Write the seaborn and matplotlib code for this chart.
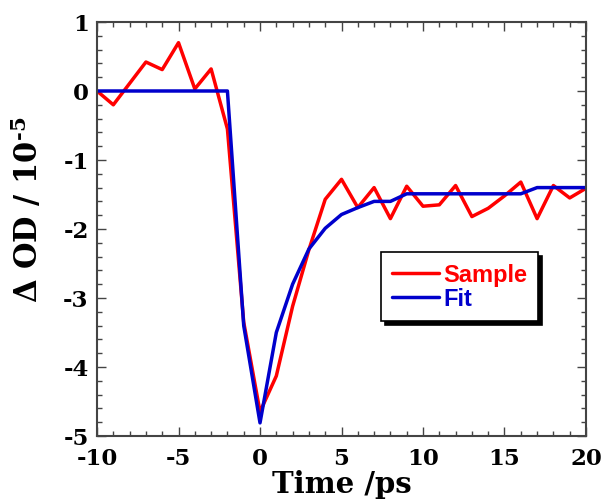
import numpy as np
import pandas as pd
import matplotlib
matplotlib.use('Agg')
import matplotlib.pyplot as plt
import seaborn as sns
from matplotlib.ticker import MultipleLocator

# Data
time_ps = [-10, -9, -8, -7, -6, -5, -4, -3, -2, -1, 0, 1, 2, 3, 4, 5,
           6, 7, 8, 9, 10, 11, 12, 13, 14, 15, 16, 17, 18, 19, 20]
sample = [0.00, -0.20, 0.11, 0.42, 0.31, 0.70, 0.03, 0.32, -0.55, -3.35,
          -4.65, -4.13, -3.12, -2.30, -1.57, -1.28, -1.69, -1.40, -1.85,
          -1.38, -1.67, -1.65, -1.37, -1.82, -1.70, -1.52, -1.32, -1.85,
          -1.37, -1.55, -1.41]
fit = [0.00, 0.00, 0.00, 0.00, 0.00, 0.00, 0.00, 0.00, 0.00, -3.40,
       -4.81, -3.50, -2.80, -2.29, -1.99, -1.79, -1.69, -1.60, -1.60,
       -1.49, -1.49, -1.49, -1.49, -1.49, -1.49, -1.49, -1.49, -1.40,
       -1.40, -1.40, -1.40]

df = pd.DataFrame({'time': time_ps, 'sample': sample, 'fit': fit})

sns.set_style('ticks')
plt.rcParams['font.family'] = ['DejaVu Serif']
plt.rcParams['font.weight'] = 'bold'
plt.rcParams['mathtext.fontset'] = 'dejavuserif'
plt.rcParams['mathtext.default'] = 'bf'
plt.rcParams['axes.unicode_minus'] = False
plt.rcParams['text.color'] = 'black'
plt.rcParams['axes.labelcolor'] = 'black'
plt.rcParams['xtick.labelcolor'] = 'black'
plt.rcParams['ytick.labelcolor'] = 'black'

fig = plt.figure(figsize=(6.03, 5.02), dpi=100)
ax = fig.add_axes([0.1609, 0.1295, 0.8109, 0.8247])

red = '#ff0000'
blue = '#0000cc'
sns.lineplot(data=df, x='time', y='sample', color=red, linewidth=2.5,
             label='Sample', ax=ax)
sns.lineplot(data=df, x='time', y='fit', color=blue, linewidth=2.5,
             label='Fit', ax=ax)

ax.set_xlim(-10, 20)
ax.set_ylim(-5, 1)
ax.xaxis.set_major_locator(MultipleLocator(5))
ax.xaxis.set_minor_locator(MultipleLocator(1))
ax.yaxis.set_major_locator(MultipleLocator(1))
ax.yaxis.set_minor_locator(MultipleLocator(0.2))

ax.tick_params(which='both', direction='in', top=True, right=True,
               color='#444444', width=1, labelcolor='black')
ax.tick_params(which='major', length=6.5, labelsize=16.5)
ax.tick_params(axis='x', which='major', pad=8)
ax.tick_params(axis='y', which='major', pad=6)
ax.tick_params(which='minor', length=3.3)
for lab in ax.get_xticklabels() + ax.get_yticklabels():
    lab.set_fontweight('bold')

for sp in ax.spines.values():
    sp.set_color('#444444')
    sp.set_linewidth(1.5)

ax.set_xlabel('Time /ps', fontsize=21, fontweight='bold', labelpad=0,
              color='black')
ax.set_ylabel('\u0394 OD / 10$^{\\text{-5}}$', fontsize=22,
              fontweight='bold', color='black')
ax.yaxis.set_label_coords(-0.106, 0.548)

leg = ax.legend(loc='upper left', bbox_to_anchor=(0.581, 0.444),
                borderaxespad=0, frameon=True, fancybox=False,
                framealpha=1, edgecolor='black', borderpad=0.45,
                handlelength=2.0, handletextpad=0.2, labelspacing=0.05,
                prop={'family': 'Liberation Sans', 'weight': 'bold', 'size': 17},
                shadow={'ox': 3, 'oy': -3, 'color': 'black', 'alpha': 1})
leg.get_frame().set_linewidth(1.2)
for txt, col in zip(leg.get_texts(), [red, blue]):
    txt.set_color(col)

fig.savefig('out.png', dpi=100)
